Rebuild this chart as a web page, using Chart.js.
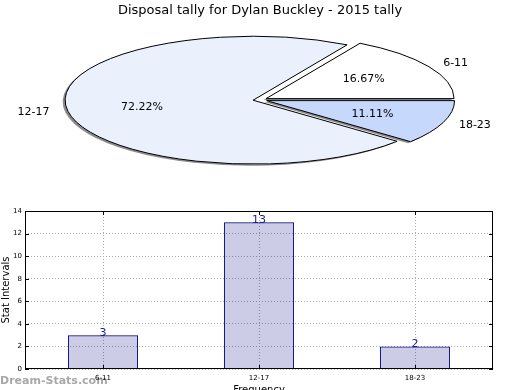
<!DOCTYPE html>
<html><head><meta charset="utf-8">
<script src="https://cdn.jsdelivr.net/npm/chart.js@4"></script>
<style>
html,body{margin:0;padding:0;background:#fff;overflow:hidden;width:520px;height:390px}
#pie{position:absolute;left:0;top:0}
#bar{position:absolute;left:0;top:0}
</style></head><body>
<canvas id="pie" width="520" height="200"></canvas>
<canvas id="bar" width="520" height="399"></canvas>
<script>
const titleText = 'Disposal tally for Dylan Buckley - 2015 tally';
const categories = ['6-11', '12-17', '18-23'];
const values = [3, 13, 2];
const pieColors = ['#ffffff', '#eaf1fd', '#c6d8fc'];
const pieOrder = [2, 1, 0]; // clockwise from east: 18-23, 12-17, 6-11
const yTicks = [0, 2, 4, 6, 8, 10, 12, 14];
const watermark = 'Dream-Stats.com';

Chart.defaults.font.family = "'DejaVu Sans', sans-serif";
Chart.defaults.color = '#000';

const total = values.reduce((a, b) => a + b, 0);
const ELL = 0.34;      // vertical squash of the pie
const EXPLODE = 7;     // explode distance

const piePlugin = {
  id: 'ellipsePie',
  afterDatasetUpdate(chart) {
    const meta = chart.getDatasetMeta(0);
    meta.data.forEach(a => {
      const m = (a.startAngle + a.endAngle) / 2;
      a.x += Math.cos(m) * EXPLODE;
      a.y += Math.sin(m) * EXPLODE;
    });
  },
  beforeDatasetsDraw(chart) {
    const ctx = chart.ctx, ca = chart.chartArea;
    const cx = (ca.left + ca.right) / 2, cy = (ca.top + ca.bottom) / 2;
    ctx.save();
    const base = ctx.getTransform();
    ctx.translate(cx, cy); ctx.scale(1, ELL); ctx.translate(-cx, -cy);
    ctx.shadowColor = 'rgba(0,0,0,0.45)';
    ctx.shadowOffsetX = -2.5; ctx.shadowOffsetY = 1.5; ctx.shadowBlur = 0;
    ctx.stroke = function () {
      this.save(); this.setTransform(base);
      this.shadowColor = 'rgba(0,0,0,0)';
      CanvasRenderingContext2D.prototype.stroke.apply(this, arguments);
      this.restore();
    };
  },
  afterDatasetsDraw(chart) {
    const ctx = chart.ctx;
    delete ctx.stroke;
    ctx.restore();
  },
  afterDraw(chart) {
    const ctx = chart.ctx, ca = chart.chartArea;
    const cy = (ca.top + ca.bottom) / 2;
    const meta = chart.getDatasetMeta(0);
    ctx.save();
    ctx.fillStyle = '#000';
    ctx.font = "11px 'DejaVu Sans'";
    ctx.textBaseline = 'middle';
    meta.data.forEach((a, i) => {
      const ci = pieOrder[i];
      const m = (a.startAngle + a.endAngle) / 2;
      const R = a.outerRadius;
      const sx = a.x, sy = cy + (a.y - cy) * ELL;
      const c = Math.cos(m), s = Math.sin(m);
      ctx.textAlign = c > 0 ? 'left' : 'right';
      ctx.fillText(categories[ci], sx + c * R * 1.1 - (c > 0 ? 2 : 0), sy + s * R * 1.1 * ELL);
      ctx.textAlign = 'center';
      const pct = (values[ci] / total * 100).toFixed(2) + '%';
      ctx.fillText(pct, sx + c * R * 0.6, sy + s * R * 0.6 * ELL);
    });
    ctx.restore();
  }
};

new Chart(document.getElementById('pie'), {
  type: 'pie',
  data: {
    labels: pieOrder.map(i => categories[i]),
    datasets: [{
      data: pieOrder.map(i => values[i]),
      backgroundColor: pieOrder.map(i => pieColors[i]),
      borderColor: '#000',
      borderWidth: 1,
      clip: false
    }]
  },
  options: {
    responsive: false, animation: false, events: [],
    rotation: 90,
    radius: 188,
    layout: { padding: { bottom: 23 } },
    plugins: {
      legend: { display: false },
      tooltip: { enabled: false },
      title: { display: true, text: titleText, font: { size: 13, weight: 'normal' }, color: '#000', padding: { top: 3, bottom: 4 } }
    }
  },
  plugins: [piePlugin]
});

const barPlugin = {
  id: 'barExtras',
  beforeDraw(chart) {
    const ctx = chart.ctx;
    ctx.save();
    ctx.font = "bold 11px 'DejaVu Sans'";
    ctx.fillStyle = '#a8a8a8';
    ctx.textBaseline = 'middle';
    ctx.textAlign = 'left';
    ctx.fillText(watermark, 0, 381);
    ctx.restore();
  },
  afterDatasetsDraw(chart) {
    const ctx = chart.ctx;
    const meta = chart.getDatasetMeta(0);
    ctx.save();
    ctx.font = "11px 'DejaVu Sans'";
    ctx.fillStyle = '#1a1a99';
    ctx.textAlign = 'center';
    ctx.textBaseline = 'alphabetic';
    meta.data.forEach((b, i) => ctx.fillText(String(values[i]), b.x, b.y + 1));
    ctx.restore();
  },
  afterDraw(chart) {
    const ctx = chart.ctx, ca = chart.chartArea;
    const xs = chart.scales.x, ys = chart.scales.y;
    ctx.save();
    ctx.strokeStyle = '#000';
    ctx.lineWidth = 1;
    ctx.strokeRect(Math.round(ca.left) + 0.5, Math.round(ca.top) + 0.5,
      Math.round(ca.right - ca.left) - 1, Math.round(ca.bottom - ca.top) - 1);
    ctx.beginPath();
    ys.ticks.forEach(t => {
      const y = Math.round(ys.getPixelForValue(t.value)) + 0.5;
      ctx.moveTo(ca.left, y); ctx.lineTo(ca.left + 4, y);
      ctx.moveTo(ca.right, y); ctx.lineTo(ca.right - 4, y);
    });
    xs.ticks.forEach((t, i) => {
      const x = Math.round(xs.getPixelForTick(i)) + 0.5;
      ctx.moveTo(x, ca.bottom); ctx.lineTo(x, ca.bottom - 4);
      ctx.moveTo(x, ca.top); ctx.lineTo(x, ca.top + 4);
    });
    ctx.stroke();
    ctx.restore();
  }
};

new Chart(document.getElementById('bar'), {
  type: 'bar',
  data: {
    labels: categories,
    datasets: [{
      data: values,
      backgroundColor: 'rgba(0,0,128,0.2)',
      borderColor: '#000080',
      borderWidth: 1,
      barPercentage: 0.45,
      categoryPercentage: 1
    }]
  },
  options: {
    responsive: false, animation: false, events: [],
    layout: { padding: { top: 211, right: 27, left: 0, bottom: 0 } },
    plugins: { legend: { display: false }, tooltip: { enabled: false } },
    scales: {
      x: {
        grid: { offset: false, color: '#aaaaaa', drawTicks: false, lineWidth: 1 },
        border: { display: false, dash: [1, 2] },
        ticks: { font: { size: 7 }, color: '#000', padding: 5 },
        title: { display: true, text: 'Frequency', font: { size: 10 }, color: '#000', padding: { top: 0, bottom: 3 } },
        afterFit(s) { s.height = 30; }
      },
      y: {
        min: 0, max: 14,
        afterBuildTicks(s) { s.ticks = yTicks.map(v => ({ value: v })); },
        ticks: { font: { size: 7 }, color: '#000', padding: 3 },
        grid: { color: '#aaaaaa', drawTicks: false, lineWidth: 1 },
        border: { display: false, dash: [1, 2] },
        title: { display: true, text: 'Stat Intervals', font: { size: 10 }, color: '#000', padding: 0 },
        afterFit(s) { s.width = 25; }
      }
    }
  },
  plugins: [barPlugin]
});
</script>
</body></html>
